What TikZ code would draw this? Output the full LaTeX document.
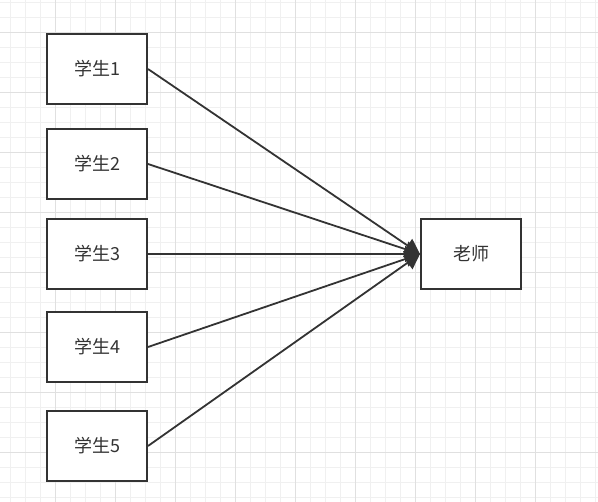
\documentclass[tikz,border=0pt]{standalone}
\usepackage{fontspec}
\newfontfamily\cjk{Noto Sans CJK SC}
\usetikzlibrary{arrows.meta}
\definecolor{linegray}{HTML}{333333}
\definecolor{minorgrid}{HTML}{F0F0F0}
\definecolor{majorgrid}{HTML}{E0E0E0}
\begin{document}
\begin{tikzpicture}[x=1pt,y=-1pt]
\tikzstyle{box}=[rectangle, draw=linegray, line width=2pt, fill=white, minimum width=100pt, minimum height=70pt, inner sep=0pt, font=\cjk\fontsize{18}{21}\selectfont, text=linegray]
\tikzstyle{link}=[draw=linegray, line width=1.8pt, -{Triangle[length=15pt,width=16pt]}]
\useasboundingbox (0,0) rectangle (598,502);
% grid
\foreach \x in {10,25,...,595} {
\draw [minorgrid, line width=0.8pt] (\x,0)--(\x,502);
}
\foreach \y in {2,17,...,500} {
\draw [minorgrid, line width=0.8pt] (0,\y)--(598,\y);
}
\foreach \x in {55,115,...,535} {
\draw [majorgrid, line width=0.8pt] (\x,0)--(\x,502);
}
\foreach \y in {32,92,...,452} {
\draw [majorgrid, line width=0.8pt] (0,\y)--(598,\y);
}

\node [box] (s1) at (97,69) {学生1};
\node [box] (s2) at (97,164) {学生2};
\node [box] (s3) at (97,254) {学生3};
\node [box] (s4) at (97,347) {学生4};
\node [box] (s5) at (97,446) {学生5};
\node [box] (teacher) at (471,254) {老师};

\foreach \i in {1,...,5} {
\draw [link] (s\i.east) -- (teacher.west);
}
\end{tikzpicture}
\end{document}
